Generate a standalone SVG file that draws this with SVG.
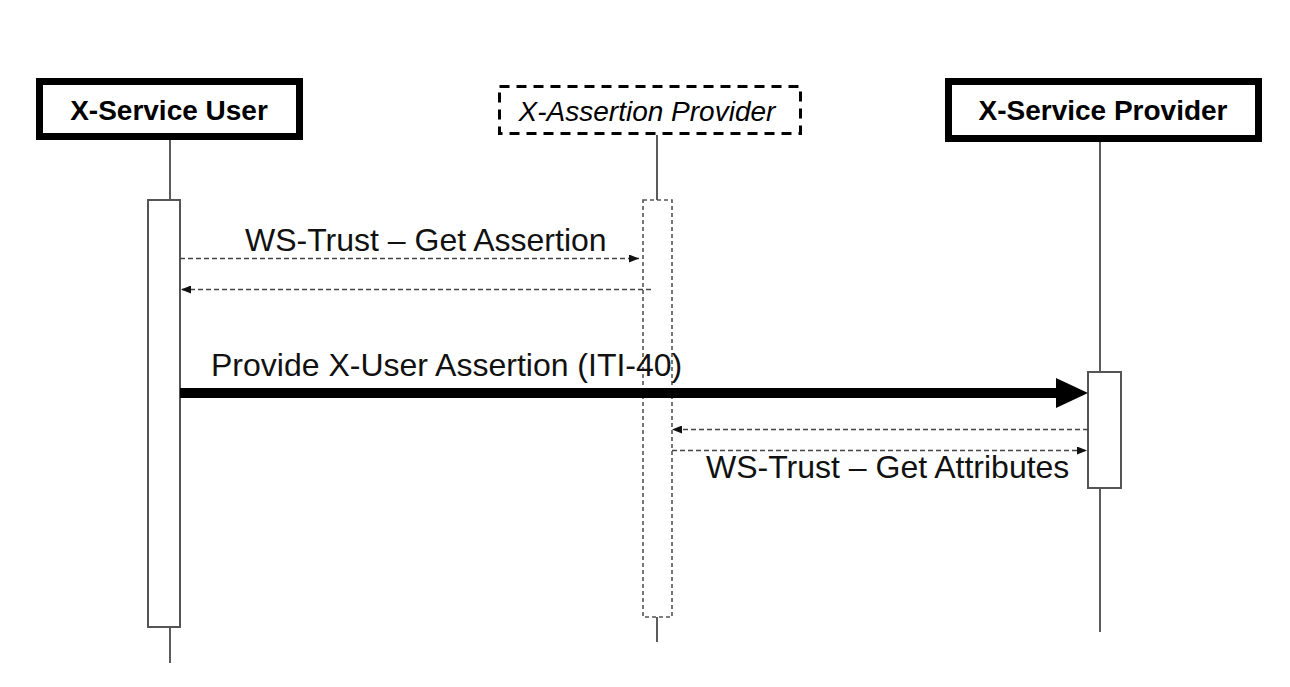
<svg xmlns="http://www.w3.org/2000/svg" width="1290" height="687" viewBox="0 0 1290 687">
  <style>
    .actor { fill: #fff; stroke: #000; stroke-width: 7; }
    .actor-dashed { fill: #fff; stroke: #000; stroke-width: 3; stroke-dasharray: 10 7; }
    .title { font-family: "Liberation Sans", Arial, sans-serif; font-size: 28px; fill: #000; text-anchor: middle; }
    .bold { font-weight: bold; }
    .italic { font-style: italic; }
    .lifeline { stroke: #333; stroke-width: 1.6; fill: none; }
    .bar { fill: #fff; stroke: #555; stroke-width: 2; }
    .bar-dashed { fill: #fff; stroke: #555; stroke-width: 1.6; stroke-dasharray: 4 3; }
    .msg { stroke: #444; stroke-width: 1.6; stroke-dasharray: 5 3; fill: none; }
    .label { font-family: "Liberation Sans", Arial, sans-serif; font-size: 32px; fill: #111; }
  </style>
  <defs>
    <marker id="tip" viewBox="0 0 10 8" refX="10" refY="4" markerWidth="10" markerHeight="8" markerUnits="userSpaceOnUse" orient="auto">
      <path d="M0,0 L10,4 L0,8 Z" fill="#111"/>
    </marker>
  </defs>

  <rect width="1290" height="687" fill="#fff"/>

  <!-- lifelines -->
  <g id="lifelines">
    <line class="lifeline" x1="170" y1="140" x2="170" y2="200"/>
    <line class="lifeline" x1="170" y1="627" x2="170" y2="663"/>
    <line class="lifeline" x1="657" y1="135" x2="657" y2="200"/>
    <line class="lifeline" x1="657" y1="617" x2="657" y2="642"/>
    <line class="lifeline" x1="1100" y1="142" x2="1100" y2="372"/>
    <line class="lifeline" x1="1100" y1="488" x2="1100" y2="632"/>
  </g>

  <g id="x-service-user">
    <rect class="actor" x="39.5" y="81.5" width="260" height="55"/>
    <text class="title bold" x="169" y="120">X-Service User</text>
    <rect class="bar" x="148" y="200" width="32" height="427"/>
  </g>

  <g id="x-assertion-provider">
    <rect class="actor-dashed" x="499.5" y="86.5" width="301" height="47"/>
    <text class="title italic" x="647" y="121">X-Assertion Provider</text>
    <rect class="bar-dashed" x="643" y="200" width="29" height="417"/>
  </g>

  <g id="x-service-provider">
    <rect class="actor" x="948.5" y="81.5" width="310" height="57"/>
    <text class="title bold" x="1103" y="120">X-Service Provider</text>
    <rect class="bar" x="1088" y="372" width="33" height="116"/>
  </g>

  <!-- messages -->
  <g id="connectors">
    <line class="msg" x1="180" y1="258.5" x2="639" y2="258.5" marker-end="url(#tip)"/>
    <line class="msg" x1="651" y1="289.5" x2="181" y2="289.5" marker-end="url(#tip)"/>
    <line x1="180" y1="393" x2="1060" y2="393" stroke="#000" stroke-width="10"/>
    <path d="M1056,378 L1088,393 L1056,408 Z" fill="#000"/>
    <line class="msg" x1="1088" y1="429.5" x2="672" y2="429.5" marker-end="url(#tip)"/>
    <line class="msg" x1="672" y1="450.5" x2="1087" y2="450.5" marker-end="url(#tip)"/>
  </g>

  <g id="labels">
    <text class="label" x="245" y="251">WS-Trust – Get Assertion</text>
    <text class="label" x="211" y="376">Provide X-User Assertion (ITI-40)</text>
    <text class="label" x="706" y="478">WS-Trust – Get Attributes</text>
  </g>
</svg>
